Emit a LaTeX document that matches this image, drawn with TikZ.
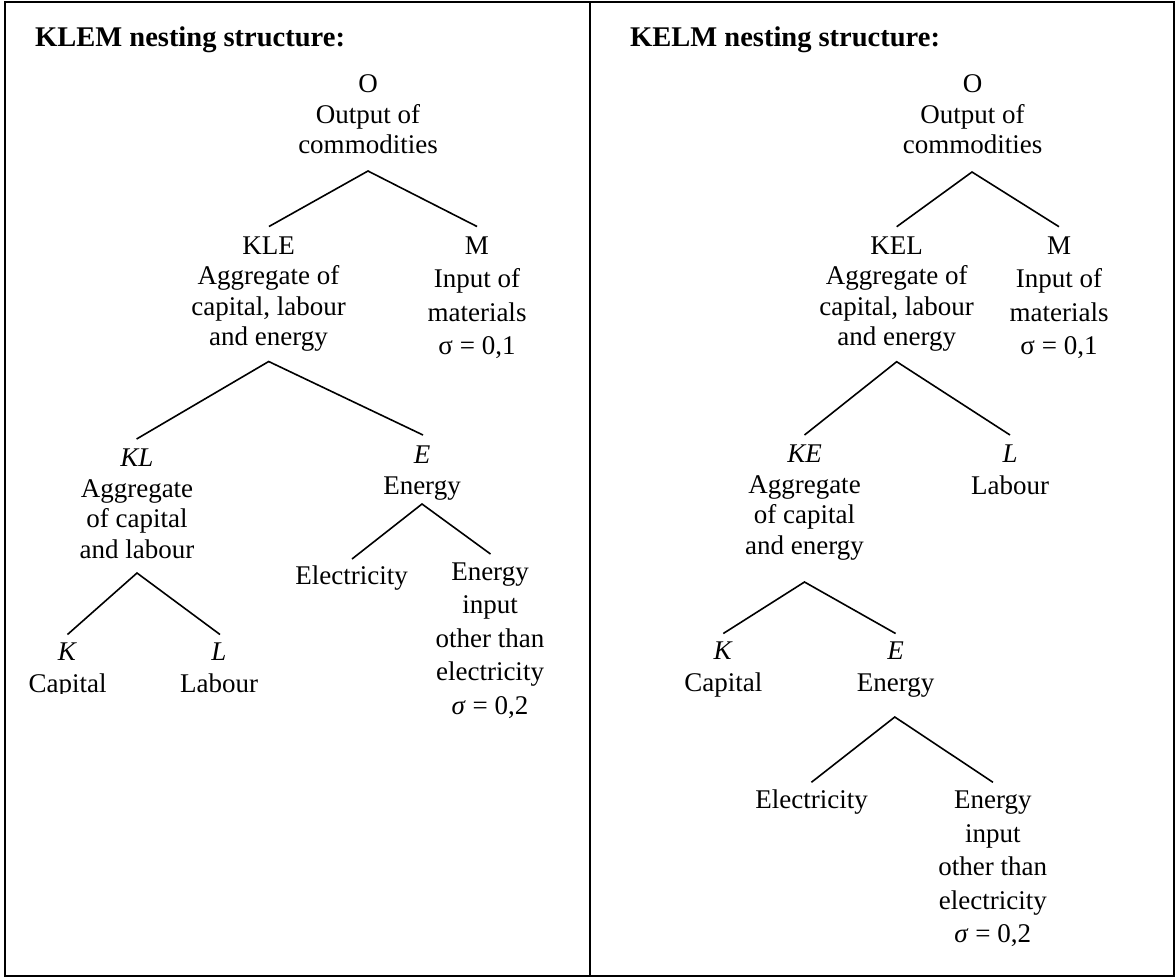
\documentclass[tikz,border=0pt]{standalone}
\usepackage{fontspec}
\setmainfont{Liberation Serif}
\begin{document}
\begin{tikzpicture}[x=1pt, y=-1pt,
  % multi-line labels are placed by the baseline of their last line
  lbl/.style={align=center, anchor=base, inner sep=0pt,
    font=\fontsize{27}{30.5}\selectfont},
  lblwide/.style={lbl, font=\fontsize{27}{33.5}\selectfont},
  ttl/.style={anchor=base west, inner sep=0pt,
    font=\fontsize{28.5}{32}\selectfont\bfseries},
  branch/.style={line width=1.6pt, line join=miter},
  frame/.style={line width=2pt}]
\useasboundingbox (0,0) rectangle (1176,978);

% outer frame and divider between the two panels
\draw[frame] (4.5,1.5) rectangle (1174,976);
\draw[frame] (590,1.5) -- (590,976);

% ---------------- KLEM nesting ----------------
\node[ttl] (titleL) at (35,46.7) {KLEM nesting structure:};

\node[lbl] (oL) at (368,153.5) {O\\Output of\\commodities};
\node[lbl] (kleL) at (268.5,345.5) {KLE\\Aggregate of\\capital, labour\\and energy};
\node[lblwide] (mL) at (477,354.5) {M\\Input of\\materials\\σ = 0,1};
\node[lbl] (klL) at (137,558) {\textit{KL}\\Aggregate\\of capital\\and labour};
\node[lbl] (eL) at (422,494) {\textit{E}\\Energy};
\begin{scope}
  \clip (0,0) rectangle (590,693);
  \node[lbl, font=\fontsize{27}{32}\selectfont] (kL) at (67.5,692) {\textit{K}\\Capital};
  \node[lbl, font=\fontsize{27}{32}\selectfont] (lL) at (219,692) {\textit{L}\\Labour};
\end{scope}
\node[lbl] (elecL) at (351.5,584.7) {Electricity};
\node[lblwide] (othL) at (490,714) {Energy\\input\\other than\\electricity\\\textit{σ} = 0,2};

\coordinate (oL-j) at (368,171);
\coordinate (kleL-t) at (269,226.5);
\coordinate (mL-t) at (477,226.5);
\coordinate (kleL-j) at (268.7,361.5);
\coordinate (klL-t) at (136.6,439);
\coordinate (eL-t) at (423,435);
\coordinate (klL-j) at (137,573);
\coordinate (kL-t) at (67.5,634.5);
\coordinate (lL-t) at (220,634.5);
\coordinate (eL-j) at (422,504);
\coordinate (elecL-t) at (352,559);
\coordinate (othL-t) at (490.5,554);

\draw[branch] (kleL-t) -- (oL-j) -- (mL-t);
\draw[branch] (klL-t) -- (kleL-j) -- (eL-t);
\draw[branch] (kL-t) -- (klL-j) -- (lL-t);
\draw[branch] (elecL-t) -- (eL-j) -- (othL-t);

% ---------------- KELM nesting ----------------
\node[ttl] (titleR) at (630,46.7) {KELM nesting structure:};

\node[lbl] (oR) at (972.5,153.5) {O\\Output of\\commodities};
\node[lbl] (kelR) at (896.7,345.5) {KEL\\Aggregate of\\capital, labour\\and energy};
\node[lblwide] (mR) at (1059,354.5) {M\\Input of\\materials\\σ = 0,1};
\node[lbl] (keR) at (804.5,554.2) {\textit{KE}\\Aggregate\\of capital\\and energy};
\node[lbl, font=\fontsize{27}{31.3}\selectfont] (lR) at (1010,494) {\textit{L}\\Labour};
\node[lbl, font=\fontsize{27}{32.7}\selectfont] (kR) at (723.3,691.7) {\textit{K}\\Capital};
\node[lbl, font=\fontsize{27}{32.7}\selectfont] (eR) at (895.6,691.7) {\textit{E}\\Energy};
\node[lbl] (elecR) at (811.5,808.6) {Electricity};
\node[lblwide] (othR) at (992.8,942.6) {Energy\\input\\other than\\electricity\\\textit{σ} = 0,2};

\coordinate (oR-j) at (972,172);
\coordinate (kelR-t) at (896.7,226.7);
\coordinate (mR-t) at (1059,226.7);
\coordinate (kelR-j) at (896.7,361.7);
\coordinate (keR-t) at (804.5,435);
\coordinate (lR-t) at (1010,435);
\coordinate (keR-j) at (804.5,582);
\coordinate (kR-t) at (723.3,633.5);
\coordinate (eR-t) at (895.6,633.5);
\coordinate (eR-j) at (894.8,717);
\coordinate (elecR-t) at (811.4,782.3);
\coordinate (othR-t) at (993,782.3);

\draw[branch] (kelR-t) -- (oR-j) -- (mR-t);
\draw[branch] (keR-t) -- (kelR-j) -- (lR-t);
\draw[branch] (kR-t) -- (keR-j) -- (eR-t);
\draw[branch] (elecR-t) -- (eR-j) -- (othR-t);
\end{tikzpicture}
\end{document}
